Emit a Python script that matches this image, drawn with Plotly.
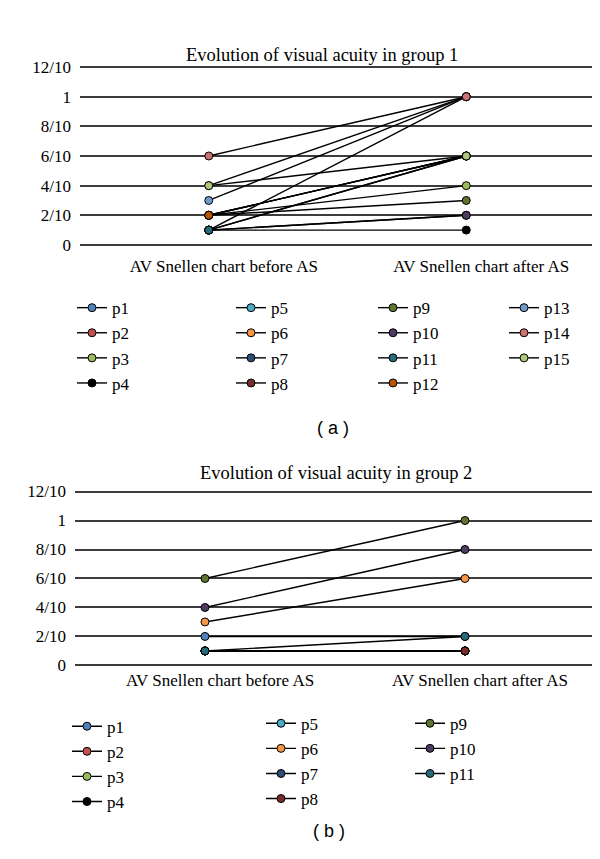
import plotly.graph_objects as go

categories = ["AV Snellen chart before AS", "AV Snellen chart after AS"]
ytick_vals = [0, 0.2, 0.4, 0.6, 0.8, 1.0, 1.2]
ytick_text = ["0", "2/10", "4/10", "6/10", "8/10", "1", "12/10"]

colors = ["#4F81BD", "#C0504D", "#9BBB59", "#000000", "#4BACC6", "#F79646",
          "#2C4D75", "#772C2A", "#5F7530", "#4D3B62", "#276A7C", "#B65708",
          "#729ACA", "#CD7371", "#AFC97A"]

g1_names = ["p%d" % i for i in range(1, 16)]
g1_before = [0.2, 0.1, 0.2, 0.1, 0.2, 0.4, 0.1, 0.1, 0.2, 0.1, 0.1, 0.2, 0.3, 0.6, 0.4]
g1_after = [0.6, 1.0, 0.4, 0.1, 0.6, 1.0, 0.2, 0.6, 0.3, 0.2, 0.6, 0.6, 1.0, 1.0, 0.6]

g2_names = ["p%d" % i for i in range(1, 12)]
g2_before = [0.2, 0.1, 0.1, 0.1, 0.1, 0.3, 0.1, 0.1, 0.6, 0.4, 0.1]
g2_after = [0.2, 0.1, 0.1, 0.1, 0.1, 0.6, 0.1, 0.1, 1.0, 0.8, 0.2]

SERIF = "Liberation Serif"
SANS = "Liberation Sans"
W, H = 600, 859

def px(x):
    return x / W

def py(y):
    return 1 - y / H

fig = go.Figure()

g1_legends = ["legend", "legend2", "legend3", "legend4"]
for i, name in enumerate(g1_names):
    fig.add_trace(go.Scatter(
        x=categories, y=[g1_before[i], g1_after[i]], name=name,
        mode="lines+markers", xaxis="x", yaxis="y",
        line=dict(color="black", width=1.4),
        marker=dict(size=8, color=colors[i], line=dict(color="black", width=1)),
        legend=g1_legends[i // 4],
    ))

g2_legends = ["legend5", "legend6", "legend7"]
for i, name in enumerate(g2_names):
    fig.add_trace(go.Scatter(
        x=categories, y=[g2_before[i], g2_after[i]], name=name,
        mode="lines+markers", xaxis="x2", yaxis="y2",
        line=dict(color="black", width=1.4),
        marker=dict(size=8, color=colors[i], line=dict(color="black", width=1)),
        legend=g2_legends[i // 4],
    ))

axis_font = dict(family=SERIF, size=17, color="black")
yax = dict(range=[-0.015, 1.215], tickmode="array", tickvals=ytick_vals, ticktext=ytick_text,
           showgrid=True, gridcolor="#3c3c3c", gridwidth=1.5, zeroline=False, showline=False,
           ticks="", tickfont=axis_font, ticklabelstandoff=8, fixedrange=True)
xax = dict(type="category", range=[-0.5, 1.5], showgrid=False, zeroline=False, showline=False,
           ticks="", tickfont=axis_font, ticklabelshift=15, fixedrange=True)

leg_common = dict(font=dict(family=SERIF, size=17, color="black"), bgcolor="rgba(0,0,0,0)",
                  borderwidth=0, xanchor="left", yanchor="top", orientation="v")

layout = dict(
    width=W, height=H, margin=dict(l=0, r=0, t=0, b=0),
    font=dict(family=SERIF, size=17, color="black"),
    paper_bgcolor="white", plot_bgcolor="white", showlegend=True,
    xaxis=dict(xax, domain=[px(72), px(587)], anchor="y", ticklabelstandoff=7),
    yaxis=dict(yax, domain=[py(236.3), py(50.7)], anchor="x"),
    xaxis2=dict(xax, domain=[px(67), px(587)], anchor="y2", ticklabelstandoff=0),
    yaxis2=dict(yax, domain=[py(664.2), py(482.8)], anchor="x2"),
    legend=dict(leg_common, x=px(64), y=py(280)),
    legend2=dict(leg_common, x=px(223), y=py(280)),
    legend3=dict(leg_common, x=px(365), y=py(280)),
    legend4=dict(leg_common, x=px(496), y=py(280)),
    legend5=dict(leg_common, x=px(59), y=py(706)),
    legend6=dict(leg_common, x=px(253), y=py(703)),
    legend7=dict(leg_common, x=px(402), y=py(703)),
    annotations=[
        dict(text="Evolution of visual acuity in group 1", x=px(314), y=py(29), xref="paper", yref="paper",
             showarrow=False, font=dict(family=SERIF, size=18.5, color="black")),
        dict(text="Evolution of visual acuity in group 2", x=px(328), y=py(466), xref="paper", yref="paper",
             showarrow=False, font=dict(family=SERIF, size=18.5, color="black")),
        dict(text="( a )", x=px(325), y=py(420), xref="paper", yref="paper",
             showarrow=False, font=dict(family=SANS, size=18, color="black")),
        dict(text="( b )", x=px(321), y=py(843), xref="paper", yref="paper",
             showarrow=False, font=dict(family=SANS, size=18, color="black")),
    ],
)
fig.update_layout(layout)
fig.write_html("out.html")
